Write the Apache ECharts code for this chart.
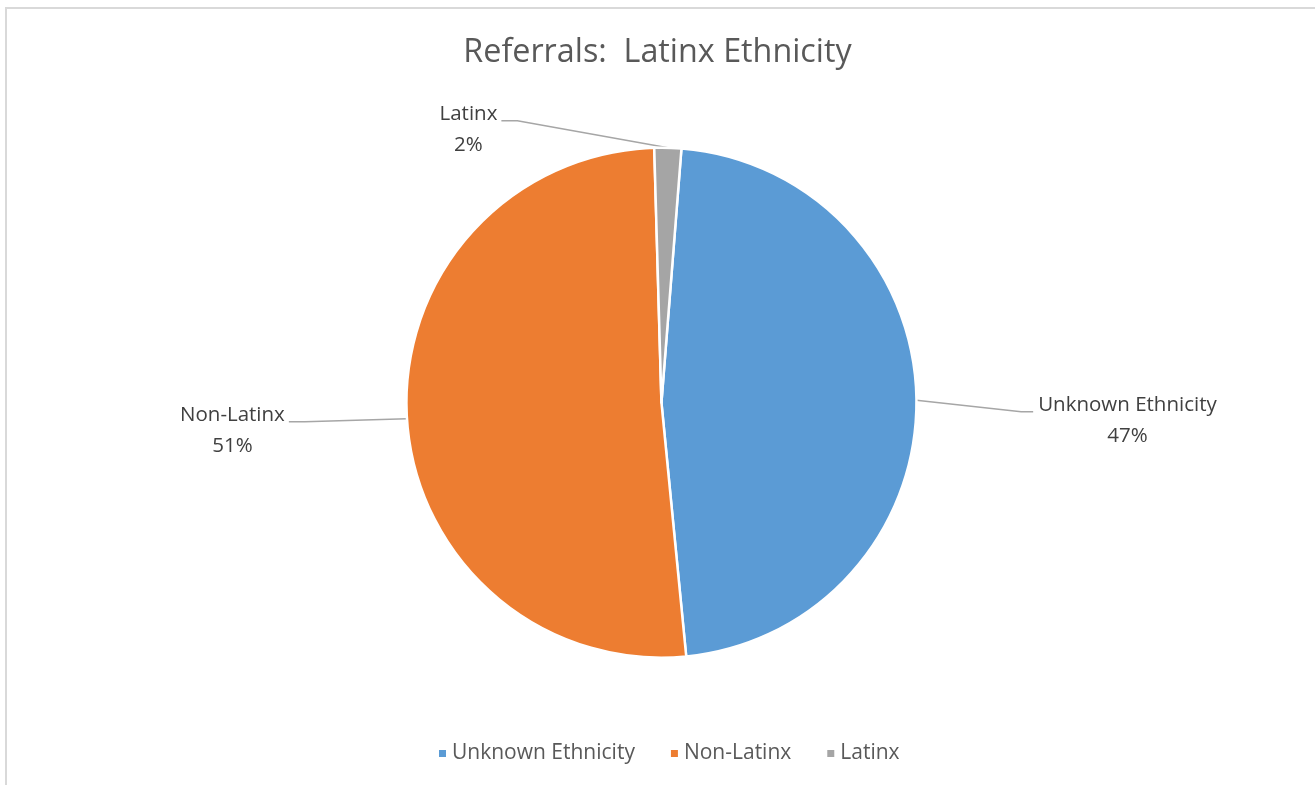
<!DOCTYPE html>
<html>
<head>
<meta charset="utf-8">
<title>Referrals: Latinx Ethnicity</title>
<script src="https://cdn.jsdelivr.net/npm/echarts@6/dist/echarts.min.js"></script>
<style>
  html, body { margin: 0; padding: 0; background: #fff; }
  #frame {
    position: absolute; left: 5px; top: 7px; width: 1320px; height: 790px;
    border-left: 2px solid #d9d9d9; border-top: 2px solid #d9d9d9;
  }
  #chart { position: absolute; left: 0; top: 0; width: 1315px; height: 785px; }
</style>
</head>
<body>
<div id="frame"></div>
<div id="chart"></div>
<script>
// Excel-style pie, values
const categories = ['Unknown Ethnicity', 'Non-Latinx', 'Latinx'];
const values = [47.2, 51.1, 1.7];
const colors = ['#5b9bd5', '#ed7d31', '#a5a5a5'];

// where each data label sits, relative to pie centre (px)
const labelOffset = [[466, 18], [-429, 28], [-193, -273]];

const PIE_CENTER = [0.503, 0.513];
const PIE_RADIUS = 255;

const myChart = echarts.init(document.getElementById('chart'), null, { renderer: 'canvas' });

const pieData = categories.map((name, i) => ({
  name: name,
  value: values[i],
  itemStyle: { color: colors[i] }
}));

function placeLabel(params) {
  const cx = myChart.getWidth() * PIE_CENTER[0];
  const cy = myChart.getHeight() * PIE_CENTER[1];
  const off = labelOffset[params.dataIndex];
  const x = cx + off[0];
  const y = cy + off[1];
  const w = params.labelRect.width;
  const start = params.labelLinePoints ? params.labelLinePoints[0] : [cx, cy];
  // line ends just beside the label, a little above its middle
  const right = off[0] > 0;
  const endX = right ? x - w / 2 - 5 : x + w / 2 + 4;
  const endY = y - 9;
  const bendX = right ? endX - 12 : endX + 16;
  return {
    x: x,
    y: y,
    align: 'center',
    verticalAlign: 'middle',
    labelLinePoints: [start, [bendX, endY], [endX, endY]]
  };
}

const option = {
  backgroundColor: 'transparent',
  title: {
    text: 'Referrals:  Latinx Ethnicity',
    left: 'center',
    top: 32,
    textStyle: {
      fontFamily: 'Open Sans',
      fontSize: 32.3,
      fontWeight: 'normal',
      color: '#595959'
    }
  },
  legend: {
    bottom: 16,
    left: 432,
    icon: 'rect',
    itemWidth: 9,
    itemHeight: 9,
    itemGap: 34,
    textStyle: {
      fontFamily: 'Open Sans',
      fontSize: 21,
      color: '#595959'
    },
    data: categories
  },
  series: [
    {
      type: 'pie',
      center: [PIE_CENTER[0] * 100 + '%', PIE_CENTER[1] * 100 + '%'],
      radius: PIE_RADIUS,
      startAngle: 85.5,
      clockwise: true,
      avoidLabelOverlap: false,
      emphasis: { scale: false },
      itemStyle: { borderColor: '#fff', borderWidth: 2.5 },
      label: {
        show: true,
        fontFamily: 'Open Sans',
        fontSize: 20.5,
        lineHeight: 31,
        color: '#404040',
        align: 'center',
        formatter: p => p.name + '\n' + Math.round(p.percent) + '%'
      },
      labelLine: {
        show: true,
        length: 10,
        length2: 20,
        lineStyle: { color: '#a6a6a6', width: 1.5 }
      },
      labelLayout: placeLabel,
      data: pieData
    }
  ]
};

myChart.setOption(option);
window.addEventListener('resize', () => myChart.resize());
</script>
</body>
</html>
